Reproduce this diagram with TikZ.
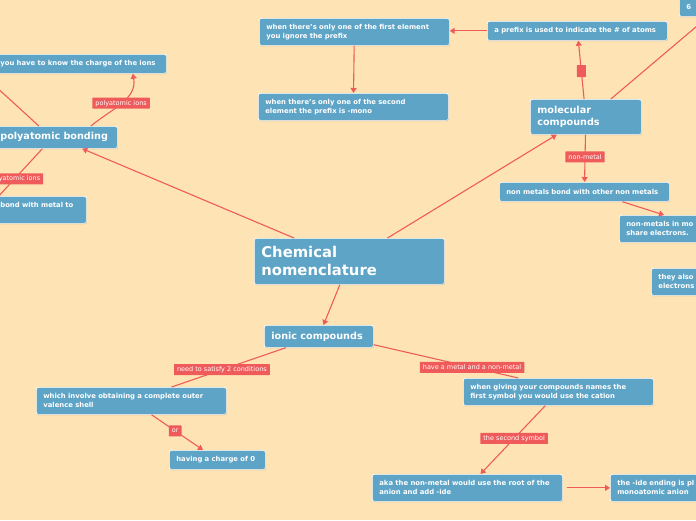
\documentclass[tikz,border=0pt]{standalone}
\usepackage{fontspec}
\setmainfont{DejaVu Sans}
\usetikzlibrary{arrows.meta,shadows,calc}
\definecolor{paper}{HTML}{FEE4B4}
\definecolor{topicblue}{HTML}{5EA4C6}
\definecolor{linkred}{HTML}{EF5B5B}
\tikzset{topic/.style={draw=white, line width=0.7pt, fill=topicblue, rounded corners=2pt,
    anchor=north west, align=left, text=white, inner xsep=7pt, inner ysep=0pt,
    font=\fontsize{6.85}{9}\selectfont\bfseries,
    drop shadow={shadow xshift=0.4pt, shadow yshift=-0.8pt, opacity=0.25, fill=black}},
  one line/.style={minimum height=19pt},
  two lines/.style={minimum height=27pt},
  main topic/.style={topic, font=\fontsize{14.8}{18}\selectfont\bfseries, minimum height=46pt},
  sub topic/.style={topic, font=\fontsize{9.65}{12}\selectfont\bfseries},
  link/.style={draw=linkred, line width=1.1pt},
  arrow link/.style={link, -{Triangle[length=5pt,width=6pt]}},
  link label/.style={fill=linkred, text=white, font=\fontsize{6.5}{7}\selectfont,
    inner xsep=3pt, inner ysep=0pt, minimum height=11pt, rounded corners=0.5pt}}

\begin{document}
\begin{tikzpicture}[x=1pt, y=-1pt]
\useasboundingbox (0,0) rectangle (696,520);
\clip (0,0) rectangle (696,520);
\fill[paper] (0,0) rectangle (696,520);

% centre
\node[main topic, text width=176pt] (chem) at (254,238) {Chemical\\nomenclature};

% molecular side
\node[sub topic, minimum height=35pt, text width=97pt] (molecular) at (530,99) {molecular\\compounds};
\node[topic, one line, text width=166pt] (prefix) at (487,21) {a prefix is used to indicate the \# of atoms};
\node[topic, one line, text width=82pt] (six) at (679,-3) {6};
\node[topic, two lines, text width=176pt] (first) at (259,18) {when there's only one of the first element\\you ignore the prefix};
\node[topic, two lines, text width=176pt] (second) at (258,93) {when there's only one of the second\\element the prefix is -mono};
\node[topic, one line, text width=156pt] (nmbond) at (499,182) {non metals bond with other non metals};
\node[topic, two lines, text width=122pt] (nmmo) at (619,215) {non-metals in mo\\share electrons.};
\node[topic, two lines, text width=122pt] (also) at (651,268) {they also\\electrons};

% ionic side
\node[sub topic, minimum height=22pt, text width=95pt] (ionic) at (264,325) {ionic compounds};
\node[topic, two lines, text width=176pt] (outer) at (36,387) {which involve obtaining a complete outer\\valence shell};
\node[topic, one line, text width=82pt] (charge) at (169,450) {having a charge of 0};
\node[topic, two lines, text width=176pt] (cation) at (463,378) {when giving your compounds names the\\first symbol you would use the cation};
\node[topic, two lines, text width=176pt] (anion) at (372,474) {aka the non-metal would use the root of the\\anion and add -ide};
\node[topic, two lines, text width=122pt] (ide) at (610,474) {the -ide ending is pl\\monoatomic anion};

% polyatomic side
\node[topic, one line, text width=159pt] (know) at (-7,54) {you have to know the charge of the ions};
\node[sub topic, minimum height=22pt, text width=110pt] (poly) at (-7,126) {polyatomic bonding};
\node[topic, two lines, text width=79pt] (metal) at (-7,196) {bond with metal to\\\mbox{}};
\coordinate (offleft) at (-30,63);

% connectors
\draw[arrow link] (chem) -- (molecular);
\draw[arrow link] (chem) -- (poly);
\draw[arrow link] (chem) -- (ionic);
\draw[link] (ionic) -- node[link label, pos=0.56] {need to satisfy 2 conditions} (outer);
\draw[arrow link] (outer) -- node[link label, pos=0.46] {or} (charge);
\draw[link] ($(ionic.south east)+(0,-3)$) -- node[link label, pos=0.68] {have a metal and a non-metal} ([xshift=-40pt]cation.north);
\draw[arrow link] (cation) -- node[link label, pos=0.48] {the second symbol} (anion);
\draw[arrow link, shorten <=4pt] (anion) -- (ide);
\draw[arrow link] (molecular) -- node[link label, pos=0.47] {non-metal} (nmbond);
\draw[arrow link] ([xshift=38pt]nmbond.south) -- ([xshift=45pt]nmmo.north west);
\draw[arrow link] (molecular) -- node[link label, minimum width=9pt, minimum height=12pt, pos=0.48] {} (prefix);
\draw[link] ([xshift=25pt]molecular.north) -- ([xshift=29pt]six.south west);
\draw[arrow link] (prefix.west) -- (prefix.west -| first.east);
\draw[arrow link] (first) -- (second);
\draw[link] ([xshift=-16.5pt]poly.north) -- (offleft);
\draw[arrow link] ([xshift=35.5pt]poly.north) to[out=40, in=-80]
  node[link label, pos=0.5] {polyatomic ions} ([xshift=53pt]know.south);
\draw[link] ([xshift=-13pt]poly.south) -- node[link label, pos=0.64] {polyatomic ions} ([xshift=-41pt]metal.north);
\end{tikzpicture}
\end{document}
